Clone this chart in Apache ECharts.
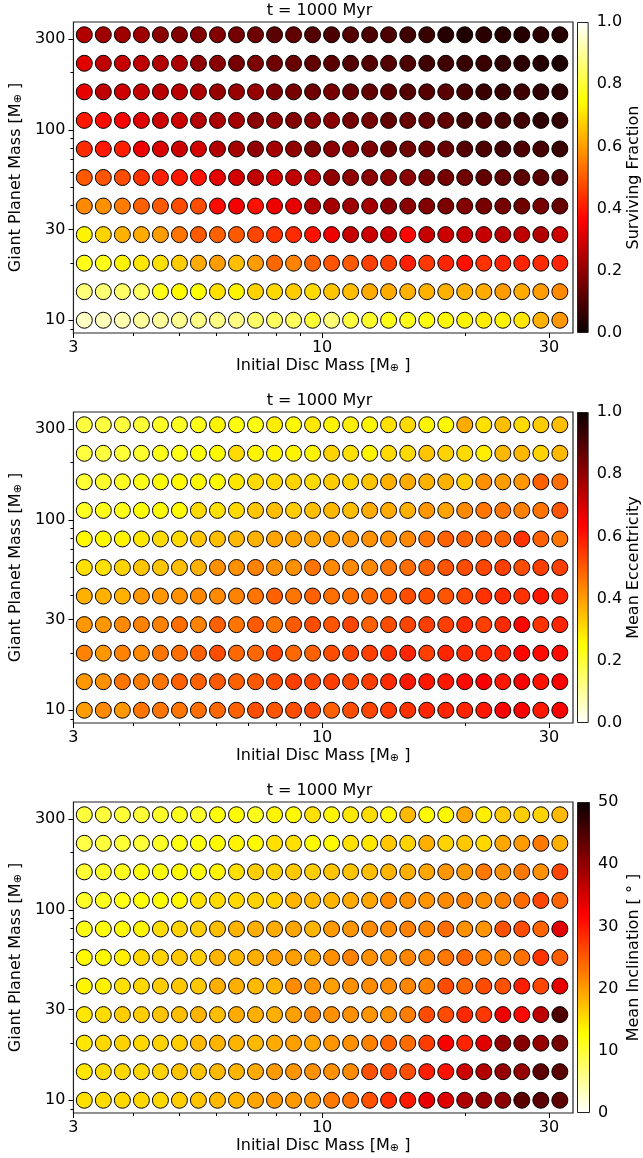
<!DOCTYPE html>
<html>
<head>
<meta charset="utf-8">
<script src="https://cdn.jsdelivr.net/npm/echarts@6/dist/echarts.min.js"></script>
<style>
  html, body { margin: 0; padding: 0; background: #fff; }
  #chart { width: 643px; height: 1158px; }
</style>
</head>
<body>
<div id="chart"></div>
<script>
// grid of simulations: disc mass (x) and giant planet mass (y), both log spaced
const discMass = [3.162, 3.467, 3.802, 4.169, 4.571, 5.012, 5.495, 6.026, 6.607, 7.244, 7.943, 8.710, 9.550,
                  10.47, 11.48, 12.59, 13.80, 15.14, 16.60, 18.20, 19.95, 21.88, 23.99, 26.30, 28.84, 31.62];
const planetMass = [10, 14.13, 19.95, 28.18, 39.81, 56.23, 79.43, 112.2, 158.5, 223.9, 316.2];

const xMajorTicks = [3, 10, 30];
const xMinorTicks = [4, 5, 6, 7, 8, 9, 20];
const yMajorTicks = [10, 30, 100, 300];
const yMinorTicks = [9, 20, 40, 50, 60, 70, 80, 90, 200];

// one row per planet mass (bottom row first), one entry per disc mass
const survivingFraction = [
  [0.94,0.93,0.92,0.90,0.90,0.89,0.88,0.88,0.88,0.85,0.84,0.84,0.80,0.86,0.81,0.79,0.77,0.77,0.76,0.74,0.73,0.72,0.73,0.71,0.63,0.59],
  [0.87,0.86,0.85,0.84,0.77,0.74,0.75,0.70,0.73,0.68,0.69,0.67,0.69,0.66,0.65,0.62,0.62,0.63,0.63,0.63,0.63,0.62,0.60,0.62,0.60,0.57],
  [0.77,0.77,0.73,0.71,0.70,0.67,0.62,0.60,0.65,0.60,0.52,0.56,0.51,0.49,0.50,0.46,0.46,0.41,0.45,0.42,0.39,0.44,0.42,0.42,0.43,0.42],
  [0.73,0.68,0.63,0.62,0.60,0.54,0.50,0.51,0.50,0.47,0.44,0.43,0.39,0.34,0.28,0.29,0.28,0.37,0.28,0.29,0.28,0.28,0.26,0.27,0.25,0.29],
  [0.57,0.58,0.55,0.51,0.50,0.48,0.48,0.38,0.35,0.39,0.34,0.33,0.25,0.23,0.22,0.23,0.19,0.19,0.18,0.17,0.18,0.16,0.16,0.15,0.16,0.14],
  [0.50,0.49,0.48,0.44,0.41,0.40,0.39,0.33,0.30,0.27,0.30,0.27,0.26,0.20,0.20,0.19,0.19,0.19,0.16,0.16,0.15,0.13,0.13,0.12,0.12,0.11],
  [0.43,0.40,0.41,0.34,0.31,0.29,0.30,0.25,0.23,0.20,0.23,0.20,0.17,0.19,0.19,0.17,0.14,0.15,0.14,0.14,0.11,0.10,0.09,0.10,0.09,0.07],
  [0.40,0.38,0.36,0.32,0.29,0.29,0.25,0.24,0.23,0.19,0.20,0.18,0.19,0.19,0.16,0.16,0.13,0.14,0.13,0.13,0.09,0.10,0.09,0.08,0.05,0.06],
  [0.33,0.27,0.29,0.28,0.26,0.26,0.24,0.21,0.21,0.21,0.17,0.16,0.15,0.16,0.13,0.13,0.12,0.11,0.11,0.12,0.09,0.07,0.07,0.08,0.06,0.05],
  [0.32,0.27,0.28,0.27,0.25,0.24,0.20,0.19,0.16,0.17,0.15,0.14,0.13,0.12,0.11,0.11,0.11,0.10,0.08,0.08,0.07,0.07,0.06,0.05,0.04,0.03],
  [0.25,0.22,0.22,0.22,0.19,0.18,0.18,0.18,0.16,0.15,0.12,0.13,0.11,0.10,0.11,0.10,0.10,0.08,0.07,0.04,0.03,0.05,0.04,0.04,0.05,0.04]
];

const meanEccentricity = [
  [0.40,0.43,0.41,0.46,0.46,0.46,0.47,0.48,0.49,0.52,0.51,0.52,0.53,0.49,0.52,0.53,0.55,0.56,0.58,0.58,0.58,0.60,0.64,0.64,0.60,0.64],
  [0.41,0.42,0.46,0.45,0.46,0.49,0.49,0.50,0.49,0.50,0.52,0.54,0.53,0.54,0.53,0.54,0.57,0.60,0.60,0.60,0.62,0.64,0.60,0.64,0.61,0.64],
  [0.44,0.41,0.44,0.43,0.46,0.47,0.49,0.52,0.48,0.48,0.53,0.48,0.49,0.52,0.53,0.54,0.56,0.58,0.54,0.58,0.57,0.57,0.58,0.63,0.62,0.62],
  [0.41,0.41,0.43,0.44,0.44,0.47,0.44,0.49,0.46,0.50,0.46,0.50,0.52,0.51,0.53,0.49,0.52,0.53,0.54,0.54,0.57,0.54,0.57,0.63,0.56,0.58],
  [0.37,0.37,0.37,0.41,0.41,0.42,0.43,0.43,0.44,0.46,0.49,0.46,0.49,0.47,0.47,0.48,0.49,0.52,0.52,0.51,0.53,0.56,0.57,0.56,0.60,0.58],
  [0.30,0.30,0.32,0.34,0.34,0.35,0.37,0.42,0.42,0.44,0.42,0.42,0.46,0.43,0.43,0.43,0.46,0.47,0.49,0.51,0.52,0.53,0.54,0.52,0.54,0.54],
  [0.26,0.26,0.27,0.29,0.31,0.31,0.34,0.35,0.36,0.37,0.39,0.39,0.39,0.40,0.41,0.42,0.42,0.43,0.46,0.49,0.49,0.49,0.49,0.56,0.49,0.46],
  [0.22,0.23,0.23,0.25,0.26,0.26,0.31,0.30,0.31,0.34,0.35,0.33,0.35,0.36,0.35,0.38,0.38,0.37,0.41,0.39,0.43,0.46,0.46,0.44,0.46,0.51],
  [0.20,0.21,0.22,0.23,0.25,0.26,0.26,0.26,0.29,0.31,0.31,0.32,0.31,0.33,0.32,0.34,0.37,0.38,0.37,0.37,0.33,0.42,0.40,0.41,0.49,0.47],
  [0.19,0.19,0.20,0.21,0.23,0.23,0.25,0.26,0.31,0.27,0.27,0.27,0.27,0.32,0.30,0.27,0.31,0.31,0.34,0.32,0.31,0.28,0.36,0.36,0.32,0.36],
  [0.19,0.19,0.19,0.20,0.22,0.22,0.23,0.27,0.24,0.24,0.28,0.26,0.29,0.27,0.28,0.27,0.30,0.31,0.27,0.26,0.38,0.30,0.35,0.31,0.33,0.35]
];

const meanInclination = [
  [15.0,15.3,15.6,15.6,15.6,16.4,17.1,17.9,18.3,19.4,20.2,20.2,20.6,22.8,23.2,25.7,28.4,29.9,33.5,34.0,37.8,39.7,40.4,44.0,44.0,43.7],
  [14.5,15.3,15.6,15.6,16.0,17.1,17.1,17.9,18.3,19.0,20.2,20.6,21.0,21.0,21.3,25.7,26.1,25.7,29.5,30.3,35.5,37.5,39.7,39.7,44.0,44.0],
  [14.5,15.6,16.0,15.6,16.0,16.4,17.9,18.3,18.3,17.9,19.0,19.8,19.4,20.6,21.0,22.0,24.3,23.6,27.2,32.0,29.0,34.0,39.7,40.8,39.7,42.0],
  [14.5,15.3,16.4,16.4,17.1,17.5,18.3,17.5,19.0,18.7,18.7,19.8,21.3,20.9,20.9,20.6,20.9,22.4,26.1,26.1,28.7,27.6,33.0,31.3,36.5,44.8],
  [13.4,13.8,15.0,15.6,16.4,16.8,16.8,18.7,18.7,17.9,18.3,21.3,20.6,19.8,20.9,21.3,21.3,21.7,22.1,26.1,24.3,26.1,25.7,29.5,26.5,33.5],
  [13.0,13.0,13.8,15.6,16.0,16.8,16.4,18.3,17.9,18.7,19.8,19.8,19.4,20.9,22.1,20.9,20.9,21.7,21.7,22.8,24.3,22.1,21.7,23.2,28.0,24.7],
  [11.7,12.2,13.0,13.4,15.3,16.0,16.4,17.5,18.3,18.7,19.0,19.4,18.3,20.2,20.6,21.3,21.3,22.1,21.7,23.6,20.9,20.6,25.7,26.1,24.3,34.0],
  [10.7,11.2,11.7,12.2,12.7,13.0,15.0,15.3,15.6,16.0,16.0,18.3,17.9,18.3,19.0,19.4,21.3,20.9,20.6,21.3,22.1,20.9,22.1,23.6,26.5,24.3],
  [10.0,10.7,11.2,12.2,12.2,13.0,12.7,13.4,15.0,16.4,16.0,16.8,16.4,17.1,17.1,17.5,18.3,18.7,19.4,20.6,20.2,22.8,20.9,22.8,20.9,26.5],
  [9.2,9.7,10.0,10.0,10.7,11.7,12.2,13.0,13.4,13.0,15.0,15.0,13.0,13.0,15.0,14.5,16.8,16.0,18.7,16.0,16.8,15.6,19.4,20.2,22.8,18.7],
  [9.7,9.7,10.0,10.0,10.7,11.2,10.7,12.3,13.0,11.2,13.4,13.0,15.0,13.4,14.5,15.3,13.4,17.9,13.0,13.0,19.4,13.8,16.8,16.4,16.0,17.9]
];

const panelTitles = ['t = 1000 Myr', 't = 1000 Myr', 't = 1000 Myr'];
const colorbarNames = ['Surviving Fraction', 'Mean Eccentricity', 'Mean Inclination [ ° ]'];
const colorbarMax = [1, 1, 50];
const colorbarStep = [0.2, 0.2, 10];

// matplotlib "hot" colormap (piecewise linear)
function hot(t) {
  const a = 0.365079, b = 0.746032;
  const r = t < a ? 0.0416 + (1 - 0.0416) * t / a : 1;
  const g = t < a ? 0 : (t < b ? (t - a) / (b - a) : 1);
  const bl = t < b ? 0 : (t - b) / (1 - b);
  const c = v => Math.round(Math.min(1, Math.max(0, v)) * 255);
  return 'rgb(' + c(r) + ',' + c(g) + ',' + c(bl) + ')';
}
const N = 64;
const hotColors = [];
for (let k = 0; k <= N; k++) hotColors.push(hot(k / N));
const hotColorsR = hotColors.slice().reverse();
const panelColors = [hotColors, hotColorsR, hotColorsR];

const L10 = Math.log10;
const FONT = 'DejaVu Sans';
const FS = 16;
const panelTop = [22, 412, 802];
const plotLeft = 66, plotW = 507, plotH = 311;
const xMin = 3, xMax = 33.7, yMin = 8.57, yMax = 369;

function cells(values) {
  const out = [];
  planetMass.forEach((m, r) => {
    discMass.forEach((d, c) => out.push([L10(d), L10(m), values[r][c]]));
  });
  return out;
}
const panelValues = [survivingFraction, meanEccentricity, meanInclination];

const tickStyle = { color: '#000', width: 1 };
const labelStyle = { fontFamily: FONT, fontSize: FS, color: '#000' };
const richM = {
  a: { fontFamily: FONT, fontSize: FS, color: '#000' },
  s: { fontFamily: FONT, fontSize: 11, color: '#000', verticalAlign: 'bottom' }
};
const powLabel = v => String(Math.round(Math.pow(10, v)));

const grid = [], xAxis = [], yAxis = [], series = [], visualMap = [], graphic = [];

for (let i = 0; i < 3; i++) {
  grid.push({ left: plotLeft, top: panelTop[i], width: plotW, height: plotH,
    show: true, borderColor: '#222', borderWidth: 1.2, backgroundColor: 'transparent' });
}
for (let i = 0; i < 3; i++) {
  grid.push({ left: 577, top: panelTop[i], width: 14, height: plotH });
}

// main axes (0..2)
for (let i = 0; i < 3; i++) {
  xAxis.push({
    type: 'value', gridIndex: i, min: L10(xMin), max: L10(xMax),
    axisLine: { show: false }, splitLine: { show: false },
    axisTick: { length: 5, lineStyle: tickStyle, customValues: xMajorTicks.map(L10) },
    axisLabel: Object.assign({ customValues: xMajorTicks.map(L10), formatter: powLabel, margin: 7 }, labelStyle),
    name: '{a|Initial Disc Mass [M}{s|⊕}{a| ]}', nameLocation: 'middle', nameGap: 25,
    nameTextStyle: Object.assign({ rich: richM }, labelStyle)
  });
  yAxis.push({
    type: 'value', gridIndex: i, min: L10(yMin), max: L10(yMax),
    axisLine: { show: false }, splitLine: { show: false },
    axisTick: { length: 5, lineStyle: tickStyle, customValues: yMajorTicks.map(L10) },
    axisLabel: Object.assign({ customValues: yMajorTicks.map(L10), formatter: powLabel, margin: 8 }, labelStyle),
    name: '{a|Giant Planet Mass [M}{s|⊕}{a| ]}', nameLocation: 'middle', nameGap: 42, nameRotate: 90,
    nameTextStyle: Object.assign({ rich: richM }, labelStyle)
  });
}
// minor tick axes (3..5)
for (let i = 0; i < 3; i++) {
  xAxis.push({
    type: 'value', gridIndex: i, min: L10(xMin), max: L10(xMax), position: 'bottom',
    axisLine: { show: false }, splitLine: { show: false }, axisLabel: { show: false },
    axisTick: { length: 3, lineStyle: tickStyle, customValues: xMinorTicks.map(L10) }
  });
  yAxis.push({
    type: 'value', gridIndex: i, min: L10(yMin), max: L10(yMax), position: 'left',
    axisLine: { show: false }, splitLine: { show: false }, axisLabel: { show: false },
    axisTick: { length: 3, lineStyle: tickStyle, customValues: yMinorTicks.map(L10) }
  });
}
// colorbar axes (6..8)
for (let i = 0; i < 3; i++) {
  xAxis.push({ type: 'category', gridIndex: 3 + i, data: ['cb'], show: false });
  yAxis.push({
    type: 'value', gridIndex: 3 + i, position: 'right', min: 0, max: colorbarMax[i], interval: colorbarStep[i],
    axisLine: { show: false }, splitLine: { show: false },
    axisTick: { length: 5, lineStyle: tickStyle },
    axisLabel: Object.assign({ margin: 8, formatter: v => colorbarMax[i] === 1 ? v.toFixed(1) : String(v) }, labelStyle),
    name: colorbarNames[i], nameLocation: 'middle', nameGap: 36, nameRotate: 90,
    nameTextStyle: labelStyle
  });
}

for (let i = 0; i < 3; i++) {
  series.push({
    type: 'scatter', xAxisIndex: i, yAxisIndex: i, data: cells(panelValues[i]),
    symbol: 'circle', symbolSize: 16,
    itemStyle: { borderColor: '#000', borderWidth: 1, opacity: 1 }
  });
  visualMap.push({
    type: 'continuous', show: false, seriesIndex: i, dimension: 2,
    min: 0, max: colorbarMax[i], inRange: { color: panelColors[i] }
  });
  graphic.push({
    type: 'text', x: plotLeft + plotW / 2, y: panelTop[i] - 11,
    style: { text: panelTitles[i], fontFamily: FONT, fontSize: FS, fill: '#000', align: 'center', verticalAlign: 'middle' }
  });
}
for (let i = 0; i < 3; i++) {
  const stops = panelColors[i].map((c, k) => ({ offset: k / N, color: c }));
  series.push({
    type: 'bar', xAxisIndex: 6 + i, yAxisIndex: 6 + i, data: [colorbarMax[i]],
    barWidth: '100%', silent: true,
    itemStyle: {
      color: { type: 'linear', x: 0, y: 1, x2: 0, y2: 0, colorStops: stops },
      borderColor: '#222', borderWidth: 1
    }
  });
}

const chart = echarts.init(document.getElementById('chart'), null, { renderer: 'canvas' });
chart.setOption({
  animation: false,
  backgroundColor: '#fff',
  grid, xAxis, yAxis, series, visualMap, graphic
});
</script>
</body>
</html>
